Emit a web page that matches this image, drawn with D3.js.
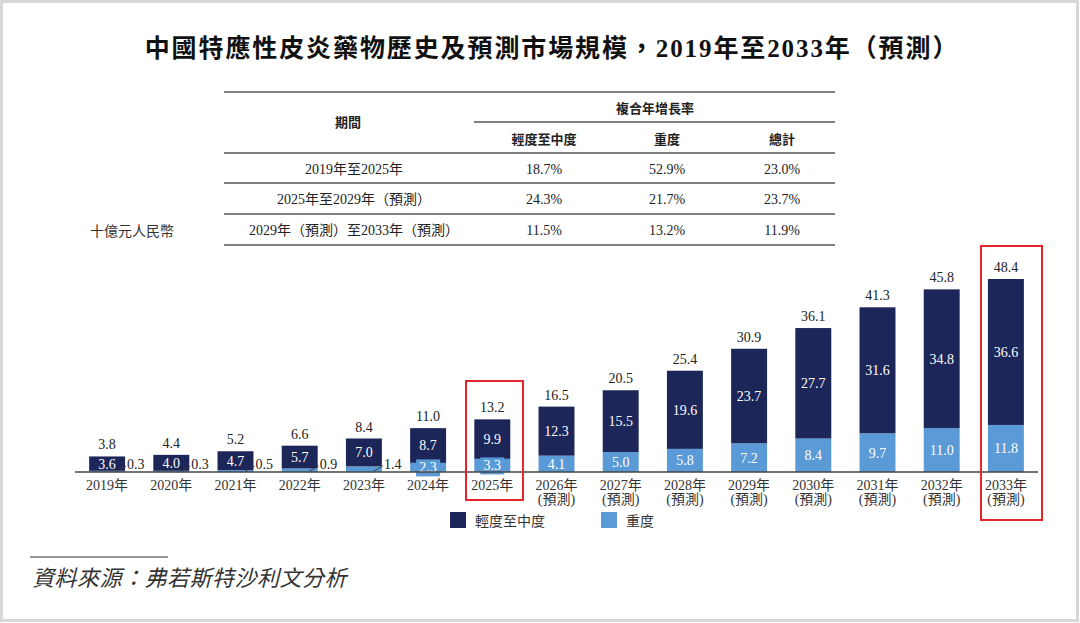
<!DOCTYPE html>
<html><head><meta charset="utf-8">
<script src="https://cdn.jsdelivr.net/npm/d3@7"></script>
<style>
html,body{margin:0;padding:0;background:#fff;}
svg{display:block;}
</style></head>
<body>
<svg id="chart" width="1080" height="623"></svg>
<script>
const years = ["2019年","2020年","2021年","2022年","2023年","2024年","2025年","2026年","2027年","2028年","2029年","2030年","2031年","2032年","2033年"];
const forecast = [false,false,false,false,false,false,false,true,true,true,true,true,true,true,true];
const mild = [3.6,4.0,4.7,5.7,7.0,8.7,9.9,12.3,15.5,19.6,23.7,27.7,31.6,34.8,36.6];
const severe = [0.3,0.3,0.5,0.9,1.4,2.3,3.3,4.1,5.0,5.8,7.2,8.4,9.7,11.0,11.8];
const totals = [3.8,4.4,5.2,6.6,8.4,11.0,13.2,16.5,20.5,25.4,30.9,36.1,41.3,45.8,48.4];

const seriesNames = ["輕度至中度","重度"];
const cagrPeriods = ["2019年至2025年","2025年至2029年（預測）","2029年（預測）至2033年（預測）"];
const cagrMild = ["18.7%","24.3%","11.5%"];
const cagrSevere = ["52.9%","21.7%","13.2%"];
const cagrTotal = ["23.0%","23.7%","11.9%"];

const NAVY = "#1c2659", LIGHT = "#5a9ad6", RED = "#e3262b", TXT = "#222";
const SERIF = "'Liberation Serif','Times New Roman','Noto Sans CJK TC',serif";
const SANS = "'Noto Sans CJK TC','Noto Sans',sans-serif";

const svg = d3.select("#chart");
// frame
svg.append("rect").attr("x",1.5).attr("y",1.5).attr("width",1076).attr("height",619)
  .attr("fill","#fff").attr("stroke","#d8d8d8").attr("stroke-width",3);

// title
svg.append("text").attr("x",552).attr("y",57).attr("text-anchor","middle")
  .attr("font-family",SERIF).attr("font-weight","bold").attr("font-size",25)
  .attr("letter-spacing",1.9).attr("fill","#111")
  .text("中國特應性皮炎藥物歷史及預測市場規模，2019年至2033年（預測）");

// table
const tX0 = 224, tX1 = 835;
const hLines = [92,153,183,214,245];
svg.selectAll("line.tbl").data(hLines).join("line").attr("class","tbl")
  .attr("x1",tX0).attr("x2",tX1).attr("y1",d=>d).attr("y2",d=>d)
  .attr("stroke","#555").attr("stroke-width",1.3);
svg.append("line").attr("x1",474).attr("x2",tX1).attr("y1",122).attr("y2",122)
  .attr("stroke","#555").attr("stroke-width",1.3);
const colX = [354,544,667,782];
const hdr = svg.append("g").attr("font-family",SANS).attr("font-weight","bold").attr("font-size",13).attr("fill",TXT).attr("text-anchor","middle");
hdr.append("text").attr("x",348).attr("y",127).text("期間");
hdr.append("text").attr("x",655).attr("y",113).text("複合年增長率");
hdr.selectAll("text.sub").data(["輕度至中度","重度","總計"]).join("text").attr("class","sub")
  .attr("x",(d,i)=>colX[i+1]).attr("y",144).text(d=>d);
const rowY = [174,204,235];
const body = svg.append("g").attr("font-family",SERIF).attr("font-size",14).attr("fill",TXT).attr("text-anchor","middle");
cagrPeriods.forEach((p,i)=>{
  const cells=[p,cagrMild[i],cagrSevere[i],cagrTotal[i]];
  cells.forEach((c,j)=>body.append("text").attr("x",colX[j]).attr("y",rowY[i]).text(c));
});

// unit label
svg.append("text").attr("x",90).attr("y",236).attr("font-family",SERIF).attr("font-size",14)
  .attr("fill","#333").text("十億元人民幣");

// scales
const x = d3.scaleBand().domain(years).range([75,1038]).paddingInner(0.44).paddingOuter(0.22);
const y = d3.scaleLinear().domain([0,48.4]).range([472,279]);

const data = years.map((yr,i)=>({yr,i,mild:mild[i],severe:severe[i],total:totals[i]}));
const stack = d3.stack().keys(["severe","mild"])(data);
const colors = {severe:LIGHT, mild:NAVY};

const g = svg.append("g");
stack.forEach(layer=>{
  g.selectAll(null).data(layer).join("rect")
    .attr("x",d=>x(d.data.yr)).attr("width",x.bandwidth())
    .attr("y",d=>y(d[1])).attr("height",d=>y(d[0])-y(d[1]))
    .attr("fill",colors[layer.key]);
});

// axis line
svg.append("line").attr("x1",75).attr("x2",1038).attr("y1",y(0)).attr("y2",y(0))
  .attr("stroke","#444").attr("stroke-width",1.3);

// mild labels (inside)
const mildLayer = stack[1];
g.selectAll(null).data(mildLayer).join("text")
  .attr("x",d=>x(d.data.yr)+x.bandwidth()/2)
  .attr("y",d=>(y(d[0])+y(d[1]))/2+5)
  .attr("text-anchor","middle").attr("font-family",SERIF).attr("font-size",14)
  .attr("fill","#fff").text(d=>d.data.mild.toFixed(1));

// severe labels
const sevLayer = stack[0];
sevLayer.forEach(d=>{
  const h = y(d[0])-y(d[1]);
  const cx = x(d.data.yr)+x.bandwidth()/2;
  const right = x(d.data.yr)+x.bandwidth();
  const val = d.data.severe.toFixed(1);
  if (d.data.i < 5) {
    g.append("line").attr("x1",right-8).attr("y1",y(0)-1).attr("x2",right+1).attr("y2",y(0)-6)
      .attr("stroke","#333").attr("stroke-width",0.9);
    g.append("text").attr("x",right+2).attr("y",y(0)-3)
      .attr("font-family",SERIF).attr("font-size",14).attr("fill",TXT).text(val);
  } else {
    const my = (y(d[0])+y(d[1]))/2;
    if (h < 16) {
      g.append("rect").attr("x",cx-12).attr("y",my-8).attr("width",24).attr("height",17).attr("fill",LIGHT);
    }
    g.append("text").attr("x",cx).attr("y",my+5).attr("text-anchor","middle")
      .attr("font-family",SERIF).attr("font-size",14).attr("fill","#fff").text(val);
  }
});

// totals
g.selectAll(null).data(data).join("text")
  .attr("x",d=>x(d.yr)+x.bandwidth()/2).attr("y",d=>y(d.mild+d.severe)-7)
  .attr("text-anchor","middle").attr("font-family",SERIF).attr("font-size",14)
  .attr("fill",TXT).text(d=>d.total.toFixed(1));

// x labels
const xl = svg.append("g").attr("font-family",SERIF).attr("font-size",14).attr("fill","#333").attr("text-anchor","middle");
data.forEach(d=>{
  const cx = x(d.yr)+x.bandwidth()/2;
  xl.append("text").attr("x",cx).attr("y",490).text(d.yr);
  if (forecast[d.i]) xl.append("text").attr("x",cx).attr("y",504).text("(預測)");
});

// highlight boxes
svg.append("rect").attr("x",466).attr("y",381).attr("width",57).attr("height",119)
  .attr("fill","none").attr("stroke",RED).attr("stroke-width",2);
svg.append("rect").attr("x",981).attr("y",246).attr("width",61).attr("height",274)
  .attr("fill","none").attr("stroke",RED).attr("stroke-width",2);

// legend
const leg = svg.append("g").attr("font-family",SERIF).attr("font-size",14).attr("fill","#333");
[[450,NAVY,seriesNames[0]],[601,LIGHT,seriesNames[1]]].forEach(([lx,c,t])=>{
  leg.append("rect").attr("x",lx).attr("y",512).attr("width",16).attr("height",16).attr("fill",c);
  leg.append("text").attr("x",lx+25).attr("y",526).text(t);
});

// source
svg.append("line").attr("x1",30).attr("x2",168).attr("y1",557).attr("y2",557).attr("stroke","#333").attr("stroke-width",1.2);
svg.append("text").attr("x",32).attr("y",586).attr("font-family",SERIF).attr("font-style","italic")
  .attr("font-size",22).attr("letter-spacing",0.5).attr("fill","#333").text("資料來源：弗若斯特沙利文分析");
</script>
</body></html>
